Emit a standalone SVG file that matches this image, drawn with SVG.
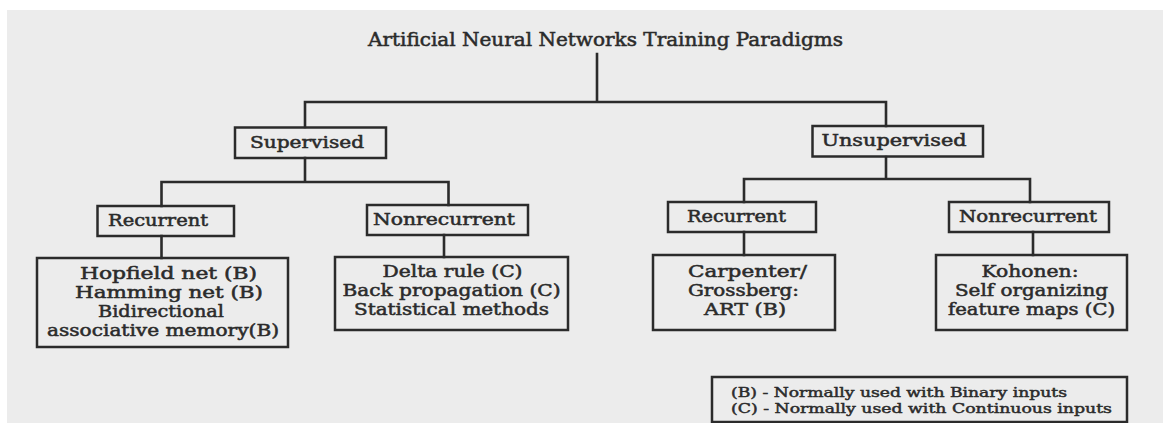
<svg xmlns="http://www.w3.org/2000/svg" width="1163" height="423" viewBox="0 0 1163 423">
<style>
.box{fill:none;stroke:#2b2b2b;stroke-width:2.5}
.ln{fill:none;stroke:#2b2b2b;stroke-width:2.6;stroke-linecap:square}
text{font-family:"DejaVu Serif","Liberation Serif",serif;fill:#2b2b2b;stroke:#2b2b2b;stroke-width:0.5;text-anchor:middle}
.t{font-size:18px}
.s{font-size:16px}
.lg{font-size:12.5px;text-anchor:start;stroke-width:0.45}
</style>
<rect width="1163" height="423" fill="#ffffff"/>
<rect x="7" y="10" width="1156" height="413" fill="#ececec"/>
<g id="title">
<text class="t" x="605.5" y="46" textLength="475" lengthAdjust="spacingAndGlyphs">Artificial Neural Networks Training Paradigms</text>
</g>
<g id="connectors">
<path class="ln" d="M597,54 V102 M305,102 H886 M305,102 V127 M886,102 V126"/>
<path class="ln" d="M305,158 V182 M161.5,182 H448.5 M161.5,182 V206 M448.5,182 V205 M161.5,236 V258 M444,235 V257"/>
<path class="ln" d="M886,157 V179 M744,179 H1030 M744,179 V202 M1030,179 V202 M744,232 V255 M1033,232 V255"/>
</g>
<g id="supervised">
<rect class="box" x="235" y="127.5" width="151" height="30.5"/>
<text class="s" x="307" y="147.5" textLength="114" lengthAdjust="spacingAndGlyphs">Supervised</text>
</g>
<g id="unsupervised">
<rect class="box" x="812.5" y="126" width="170.5" height="30.5"/>
<text class="s" x="894" y="145.5" textLength="145" lengthAdjust="spacingAndGlyphs">Unsupervised</text>
</g>
<g id="sup-recurrent">
<rect class="box" x="97.5" y="206" width="136.5" height="30"/>
<text class="s" x="158" y="225.5" textLength="100" lengthAdjust="spacingAndGlyphs">Recurrent</text>
</g>
<g id="sup-nonrecurrent">
<rect class="box" x="367" y="205" width="161" height="30"/>
<text class="s" x="444" y="224.5" textLength="142" lengthAdjust="spacingAndGlyphs">Nonrecurrent</text>
</g>
<g id="uns-recurrent">
<rect class="box" x="668" y="202" width="148" height="30"/>
<text class="s" x="736.5" y="221.5" textLength="99" lengthAdjust="spacingAndGlyphs">Recurrent</text>
</g>
<g id="uns-nonrecurrent">
<rect class="box" x="949" y="202" width="160" height="30"/>
<text class="s" x="1028" y="221.5" textLength="138" lengthAdjust="spacingAndGlyphs">Nonrecurrent</text>
</g>
<g id="hopfield">
<rect class="box" x="37" y="258" width="251" height="89"/>
<text class="s" x="168.5" y="279" textLength="177" lengthAdjust="spacingAndGlyphs">Hopfield net (B)</text>
<text class="s" x="169" y="298" textLength="188" lengthAdjust="spacingAndGlyphs">Hamming net (B)</text>
<text class="s" x="161" y="317" textLength="126" lengthAdjust="spacingAndGlyphs">Bidirectional</text>
<text class="s" x="163" y="336" textLength="232" lengthAdjust="spacingAndGlyphs">associative memory(B)</text>
</g>
<g id="delta">
<rect class="box" x="335" y="257" width="233" height="73"/>
<text class="s" x="452.5" y="277" textLength="140" lengthAdjust="spacingAndGlyphs">Delta rule (C)</text>
<text class="s" x="451.5" y="296" textLength="218" lengthAdjust="spacingAndGlyphs">Back propagation (C)</text>
<text class="s" x="451.5" y="315" textLength="195" lengthAdjust="spacingAndGlyphs">Statistical methods</text>
</g>
<g id="carpenter">
<rect class="box" x="653" y="255" width="182" height="75"/>
<text class="s" x="747.5" y="277" textLength="119" lengthAdjust="spacingAndGlyphs">Carpenter/</text>
<text class="s" x="743.5" y="296" textLength="111" lengthAdjust="spacingAndGlyphs">Grossberg:</text>
<text class="s" x="745" y="315" textLength="82" lengthAdjust="spacingAndGlyphs">ART (B)</text>
</g>
<g id="kohonen">
<rect class="box" x="936" y="255" width="191" height="75"/>
<text class="s" x="1030" y="277" textLength="97" lengthAdjust="spacingAndGlyphs">Kohonen:</text>
<text class="s" x="1031.5" y="296" textLength="153" lengthAdjust="spacingAndGlyphs">Self organizing</text>
<text class="s" x="1031.5" y="315" textLength="167" lengthAdjust="spacingAndGlyphs">feature maps (C)</text>
</g>
<g id="legend">
<rect class="box" x="712" y="377" width="415" height="45"/>
<text class="lg" x="731" y="397" textLength="336" lengthAdjust="spacingAndGlyphs">(B) - Normally used with Binary inputs</text>
<text class="lg" x="731" y="413" textLength="381" lengthAdjust="spacingAndGlyphs">(C) - Normally used with Continuous inputs</text>
</g>
</svg>
